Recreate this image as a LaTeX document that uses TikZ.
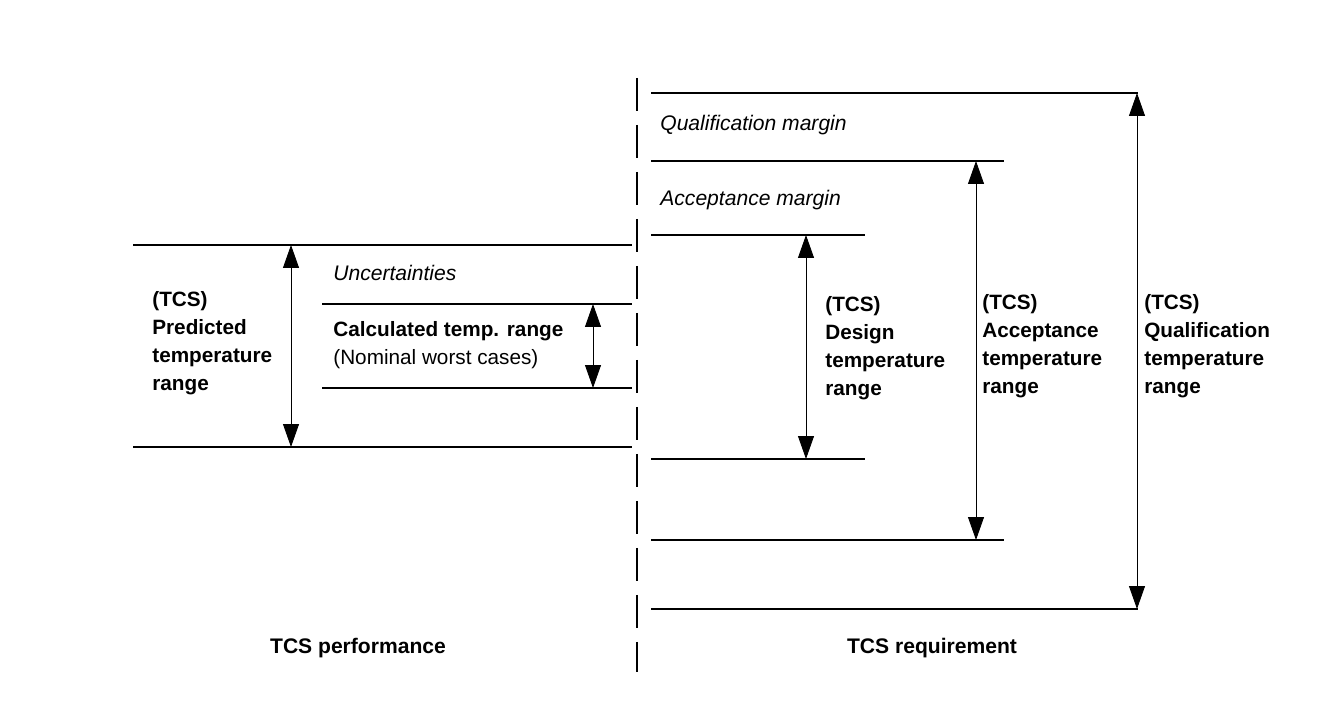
\documentclass[tikz,border=0pt]{standalone}
\usepackage{fontspec}
\setmainfont{Liberation Sans}
\usetikzlibrary{arrows.meta}

\begin{document}
\begin{tikzpicture}[x=0.02cm,y=-0.02cm,
    level/.style={line width=1.1pt},
    rng/.style={line width=0.5pt,{Triangle[length=4.6mm,width=3.2mm]}-{Triangle[length=4.6mm,width=3.2mm]}},
    lbl/.style={font=\fontsize{11.8}{15.9}\selectfont\bfseries,align=left,anchor=north west,inner sep=0pt},
    note/.style={font=\fontsize{12}{14}\selectfont\itshape,anchor=west,inner sep=0pt},
    foot/.style={font=\fontsize{12}{14}\selectfont\bfseries,inner sep=0pt}]
    \useasboundingbox (0,0) rectangle (1336,712);

    % dividing line
    \coordinate (divtop) at (637,78);
    \coordinate (divbot) at (637,672);
    \draw[line width=1.1pt,dash pattern=on 0.66cm off 0.28cm] (divtop) -- (divbot);

    % performance side
    \coordinate (predtop) at (291,245);
    \coordinate (predbot) at (291,447);
    \coordinate (calctop) at (593,304);
    \coordinate (calcbot) at (593,388);
    \draw[level] (133,245) -- (632,245);
    \draw[level] (133,447) -- (632,447);
    \draw[level] (322,304) -- (632,304);
    \draw[level] (322,388) -- (632,388);
    \draw[rng] (predtop) -- (predbot);
    \draw[rng] (calctop) -- (calcbot);

    \node[note] (unc) at (333,273) {Uncertainties};
    \node[lbl] (pred) at (152,291) {(TCS)\\Predicted\\temperature\\range};
    \node[lbl] (calc) at (333,321) {Calculated temp. range\\\mdseries(Nominal worst cases)};

    % requirement side
    \coordinate (destop) at (806,235);
    \coordinate (desbot) at (806,459);
    \coordinate (acctop) at (976,161);
    \coordinate (accbot) at (976,540);
    \coordinate (qualtop) at (1137,93);
    \coordinate (qualbot) at (1137,609);
    \draw[level] (651,93) -- (1138,93);
    \draw[level] (651,161) -- (1004,161);
    \draw[level] (651,235) -- (865,235);
    \draw[level] (651,459) -- (865,459);
    \draw[level] (651,540) -- (1004,540);
    \draw[level] (651,609) -- (1138,609);
    \draw[rng] (destop) -- (desbot);
    \draw[rng] (acctop) -- (accbot);
    \draw[rng] (qualtop) -- (qualbot);

    \node[note] (qmarg) at (660,125) {Qualification margin};
    \node[note] (amarg) at (660,200) {Acceptance margin};
    \node[lbl] (des) at (825,296) {(TCS)\\Design\\temperature\\range};
    \node[lbl] (acc) at (982,294) {(TCS)\\Acceptance\\temperature\\range};
    \node[lbl] (qual) at (1144,294) {(TCS)\\Qualification\\temperature\\range};

    % bottom captions
    \node[foot] (perf) at (358,648) {TCS performance};
    \node[foot] (req) at (932,648) {TCS requirement};
\end{tikzpicture}
\end{document}
